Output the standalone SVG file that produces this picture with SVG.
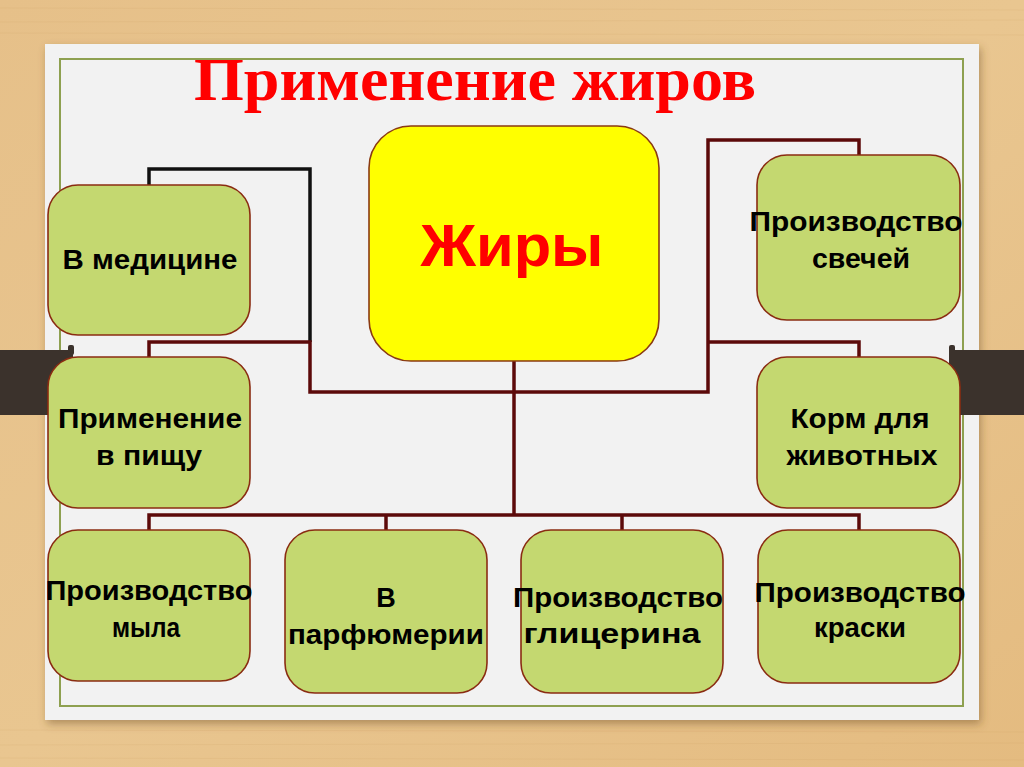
<svg xmlns="http://www.w3.org/2000/svg" width="1024" height="767" viewBox="0 0 1024 767">
  <defs>
    <linearGradient id="wood" x1="0" y1="0" x2="1" y2="1">
      <stop offset="0" stop-color="#e6c089"/>
      <stop offset="0.5" stop-color="#e9c690"/>
      <stop offset="1" stop-color="#e4bb80"/>
    </linearGradient>
    <filter id="shadow" x="-5%" y="-5%" width="110%" height="115%">
      <feDropShadow dx="2" dy="4" stdDeviation="4" flood-color="#6b4a20" flood-opacity="0.45"/>
    </filter>
    <style>
      .node { fill: #c4d870; stroke: #8a2c12; stroke-width: 1.6; }
      .core { fill: #ffff00; stroke: #8a3a12; stroke-width: 1.6; }
      .lbl { font-family: "Liberation Sans", Arial, sans-serif; font-weight: bold; font-size: 27px; fill: #000; text-anchor: middle; }
      .conn { fill: none; stroke: #5c0a0a; stroke-width: 3.5; stroke-linejoin: miter; }
      .conn-b { fill: none; stroke: #111; stroke-width: 3.5; }
      .bar { fill: #3b322c; }
    </style>
  </defs>

  <!-- wood background -->
  <rect x="0" y="0" width="1024" height="767" fill="url(#wood)"/>
  <g opacity="0.1" stroke="#b98a4a" stroke-width="1">
    <line x1="0" y1="8" x2="1024" y2="10"/>
    <line x1="0" y1="22" x2="1024" y2="20"/>
    <line x1="0" y1="33" x2="1024" y2="35"/>
    <line x1="0" y1="730" x2="1024" y2="732"/>
    <line x1="0" y1="745" x2="1024" y2="743"/>
    <line x1="0" y1="758" x2="1024" y2="760"/>
  </g>

  <!-- paper -->
  <rect x="45" y="44" width="934" height="676" fill="#f2f2f2" filter="url(#shadow)"/>
  <rect x="60" y="59" width="903" height="647" fill="none" stroke="#8ea050" stroke-width="2"/>

  <!-- dark bars -->
  <rect class="bar" x="68" y="345" width="6" height="10" rx="2"/>
  <rect class="bar" x="0" y="350" width="73" height="65"/>
  <rect class="bar" x="949" y="345" width="6" height="10" rx="2"/>
  <rect class="bar" x="949" y="350" width="75" height="65"/>

  <!-- title -->
  <text x="475" y="100" font-family="'Liberation Serif', 'Times New Roman', serif" font-weight="bold" font-size="62" fill="#ff0000" text-anchor="middle" textLength="562" lengthAdjust="spacingAndGlyphs">Применение жиров</text>

  <!-- connectors -->
  <g id="connectors">
    <path class="conn-b" d="M149 185 V169 H310 V342"/>
    <path class="conn" d="M149 357 V342 H310 V392 H514"/>
    <path class="conn" d="M859 155 V140 H708 V392 H514"/>
    <path class="conn" d="M859 357 V342 H708"/>
    <path class="conn" d="M514 361 V515"/>
    <path class="conn" d="M149 530 V515 H859 V530"/>
    <path class="conn" d="M386 515 V530"/>
    <path class="conn" d="M622 515 V530"/>
  </g>

  <g id="node-fats">
    <rect class="core" x="369" y="126" width="290" height="235" rx="42" ry="42"/>
    <text x="512" y="266" font-family="'Liberation Sans', Arial, sans-serif" font-weight="bold" font-size="60" fill="#ff0000" text-anchor="middle" textLength="183" lengthAdjust="spacingAndGlyphs">Жиры</text>
  </g>

  <g id="node-medicine">
    <rect class="node" x="48" y="185" width="202" height="150" rx="30" ry="30"/>
    <text class="lbl" x="150" y="269" textLength="175" lengthAdjust="spacingAndGlyphs">В медицине</text>
  </g>

  <g id="node-food">
    <rect class="node" x="48" y="357" width="202" height="151" rx="30" ry="30"/>
    <text class="lbl" x="150" y="428" textLength="184" lengthAdjust="spacingAndGlyphs">Применение</text>
    <text class="lbl" x="149" y="465" textLength="106" lengthAdjust="spacingAndGlyphs">в пищу</text>
  </g>

  <g id="node-candles">
    <rect class="node" x="757" y="155" width="203" height="165" rx="30" ry="30"/>
    <text class="lbl" x="856" y="231" textLength="213" lengthAdjust="spacingAndGlyphs">Производство</text>
    <text class="lbl" x="861" y="268" textLength="98" lengthAdjust="spacingAndGlyphs">свечей</text>
  </g>

  <g id="node-feed">
    <rect class="node" x="757" y="357" width="203" height="151" rx="30" ry="30"/>
    <text class="lbl" x="860" y="428" textLength="139" lengthAdjust="spacingAndGlyphs">Корм для</text>
    <text class="lbl" x="862" y="465" textLength="151" lengthAdjust="spacingAndGlyphs">животных</text>
  </g>

  <g id="node-soap">
    <rect class="node" x="48" y="530" width="202" height="151" rx="30" ry="30"/>
    <text class="lbl" x="149" y="600" textLength="207" lengthAdjust="spacingAndGlyphs">Производство</text>
    <text class="lbl" x="146" y="637" textLength="68" lengthAdjust="spacingAndGlyphs">мыла</text>
  </g>

  <g id="node-perfume">
    <rect class="node" x="285" y="530" width="202" height="163" rx="30" ry="30"/>
    <text class="lbl" x="386" y="607">В</text>
    <text class="lbl" x="386" y="644" textLength="196" lengthAdjust="spacingAndGlyphs">парфюмерии</text>
  </g>

  <g id="node-glycerin">
    <rect class="node" x="521" y="530" width="202" height="163" rx="30" ry="30"/>
    <text class="lbl" x="618" y="607" textLength="210" lengthAdjust="spacingAndGlyphs">Производство</text>
    <text class="lbl" x="612" y="643" textLength="177" lengthAdjust="spacingAndGlyphs">глицерина</text>
  </g>

  <g id="node-paint">
    <rect class="node" x="758" y="530" width="202" height="153" rx="30" ry="30"/>
    <text class="lbl" x="860" y="602" textLength="211" lengthAdjust="spacingAndGlyphs">Производство</text>
    <text class="lbl" x="860" y="637" textLength="92" lengthAdjust="spacingAndGlyphs">краски</text>
  </g>
</svg>
